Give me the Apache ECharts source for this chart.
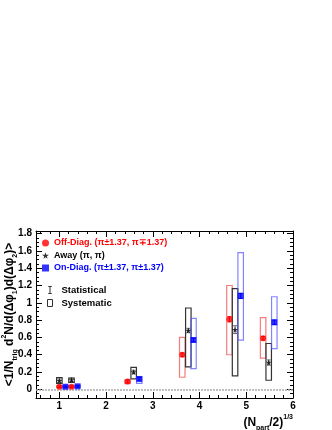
<!DOCTYPE html>
<html><head><meta charset="utf-8">
<script src="https://cdn.jsdelivr.net/npm/echarts@6/dist/echarts.min.js"></script>
<style>html,body{margin:0;padding:0;background:#fff}#c{width:332px;height:430px}</style>
</head><body><div id="c"></div>
<script>
// ---- data ----
const offName = 'Off-Diag. (π±1.37, π∓1.37)';
const awayName = 'Away (π, π)';
const onName = 'On-Diag. (π±1.37, π±1.37)';

const offX = [1.00, 1.26, 2.46, 3.63, 4.64, 5.36];
const offY = [0.03, 0.03, 0.09, 0.40, 0.81, 0.59];
const offStat = [0.01, 0.01, 0.015, 0.02, 0.03, 0.02];
const offSysLo = [0.02, 0.02, 0.065, 0.14, 0.40, 0.36];
const offSysHi = [0.04, 0.04, 0.11, 0.60, 1.20, 0.83];

const awayX = [1.00, 1.26, 2.59, 3.76, 4.76, 5.48];
const awayY = [0.10, 0.11, 0.20, 0.68, 0.69, 0.31];
const awayStat = [0.02, 0.02, 0.02, 0.025, 0.045, 0.03];
const awaySysLo = [0.07, 0.08, 0.12, 0.26, 0.155, 0.105];
const awaySysHi = [0.135, 0.13, 0.255, 0.94, 1.165, 0.53];

const onX = [1.13, 1.39, 2.71, 3.87, 4.88, 5.60];
const onY = [0.03, 0.035, 0.12, 0.57, 1.08, 0.775];
const onStat = [0.01, 0.01, 0.015, 0.02, 0.03, 0.025];
const onSysLo = [0.02, 0.025, 0.07, 0.24, 0.57, 0.47];
const onSysHi = [0.04, 0.045, 0.145, 0.82, 1.58, 1.07];

const xTicks = [1, 2, 3, 4, 5, 6];
const yTicks = [0, 0.2, 0.4, 0.6, 0.8, 1.0, 1.2, 1.4, 1.6, 1.8];
const xMin = 0.5, xMax = 6, yMin = -0.1, yMax = 1.83;

// ---- styles ----
const FONT = 'Liberation Sans, Arial, Helvetica, sans-serif';
const COLORS = ['#ff0000', '#000000', '#0000ff'];
const BOX_COLORS = ['rgba(240,80,80,0.75)', '#333333', 'rgba(90,90,255,0.75)'];
const STAT_COLORS = ['#ff0000', '#666666', '#0000ff'];
const BOX_W = 5.5;
const STAR = 'path://M50,0 L61,35 L98,35 L68,57 L79,91 L50,70 L21,91 L32,57 L2,35 L39,35 Z';

// minor tick values
const xMinor = [];
for (let i = 3; i <= 30; i++) { const v = +(i * 0.2).toFixed(1); if (v > xMin && v <= xMax) xMinor.push(v); }
const yMinor = [];
for (let i = -2; i <= 36; i++) { const v = +(i * 0.05).toFixed(2); if (v >= yMin && v <= yMax) yMinor.push(v); }

// build data
const groups = [[offX, offY, offStat, offSysLo, offSysHi], [awayX, awayY, awayStat, awaySysLo, awaySysHi], [onX, onY, onStat, onSysLo, onSysHi]];
const sysData = [], statData = [];
groups.forEach((g, gi) => {
  g[0].forEach((x, i) => {
    sysData.push([x, g[3][i], g[4][i], gi]);
    statData.push([x, g[1][i] - g[2][i], g[1][i] + g[2][i], gi]);
  });
});
const pts = (xs, ys) => xs.map((x, i) => [x, ys[i]]);

function renderBox(params, api) {
  const x = api.value(0), lo = api.value(1), hi = api.value(2), g = api.value(3);
  const a = api.coord([x, hi]), b = api.coord([x, lo]);
  return { type: 'rect', shape: { x: a[0] - BOX_W / 2, y: a[1], width: BOX_W, height: b[1] - a[1] },
    style: { fill: 'none', stroke: BOX_COLORS[g], lineWidth: 1.2 } };
}
function renderStat(params, api) {
  const x = api.value(0), lo = api.value(1), hi = api.value(2), g = api.value(3);
  const a = api.coord([x, hi]), b = api.coord([x, lo]); const c = 2;
  const st = { stroke: STAT_COLORS[g], lineWidth: 1 };
  return { type: 'group', children: [
    { type: 'line', shape: { x1: a[0], y1: a[1], x2: b[0], y2: b[1] }, style: st },
    { type: 'line', shape: { x1: a[0] - c, y1: a[1], x2: a[0] + c, y2: a[1] }, style: st },
    { type: 'line', shape: { x1: b[0] - c, y1: b[1], x2: b[0] + c, y2: b[1] }, style: st }
  ] };
}

const gridRect = { left: 36, right: 39, top: 231, bottom: 32, containLabel: false, outerBoundsMode: 'none' };
const lineStyle = { color: '#000', width: 1 };
function xAx(grid, pos, ticks, len, opts) {
  return Object.assign({ type: 'value', gridIndex: grid, position: pos, min: xMin, max: xMax,
    axisLine: { show: grid === 0, onZero: false, lineStyle },
    axisTick: { show: true, inside: true, length: len, customValues: ticks, lineStyle },
    axisLabel: { show: false }, splitLine: { show: false } }, opts || {});
}
function yAx(grid, pos, ticks, len, opts) {
  return Object.assign({ type: 'value', gridIndex: grid, position: pos, min: yMin, max: yMax,
    axisLine: { show: grid === 0, onZero: false, lineStyle },
    axisTick: { show: true, inside: true, length: len, customValues: ticks, lineStyle },
    axisLabel: { show: false }, splitLine: { show: false } }, opts || {});
}

const option = {
  backgroundColor: '#fff',
  animation: false,
  textStyle: { fontFamily: FONT },
  grid: [Object.assign({}, gridRect), Object.assign({}, gridRect)],
  xAxis: [
    xAx(0, 'bottom', xTicks, 6, {
      axisLabel: { show: true, customValues: xTicks, margin: 3, fontSize: 10, fontWeight: 'bold', color: '#000', fontFamily: FONT },
      name: '{t|(N}{s|part}{t|/2)}{p|1/3}', nameLocation: 'end', nameGap: 0, nameMoveOverlap: false,
      nameTextStyle: { align: 'right', verticalAlign: 'top', padding: [16, 0, 0, 0],
        rich: {
          t: { fontSize: 12, fontWeight: 'bold', fontFamily: FONT, color: '#000', lineHeight: 18, verticalAlign: 'middle' },
          s: { fontSize: 7, fontWeight: 'bold', fontFamily: FONT, color: '#000', lineHeight: 18, verticalAlign: 'bottom' },
          p: { fontSize: 7, fontWeight: 'bold', fontFamily: FONT, color: '#000', lineHeight: 18, verticalAlign: 'top' }
        } }
    }),
    xAx(0, 'top', xTicks, 6),
    xAx(1, 'bottom', xMinor, 3),
    xAx(1, 'top', xMinor, 3)
  ],
  yAxis: [
    yAx(0, 'left', yTicks, 6, {
      axisLabel: { show: true, customValues: yTicks, margin: 4, fontSize: 10, fontWeight: 'bold', color: '#000', fontFamily: FONT,
        formatter: v => String(+(+v).toFixed(1)) },
      name: '{t|<1/N}{s|trig}{t| d}{p|2}{t|N/d(Δφ}{s|1}{t|)d(Δφ}{s|2}{t|)>}',
      nameLocation: 'middle', nameRotate: 90, nameGap: 17, nameMoveOverlap: false,
      nameTextStyle: { rich: {
        t: { fontSize: 12, fontWeight: 'bold', fontFamily: FONT, color: '#000', lineHeight: 18, verticalAlign: 'middle' },
        s: { fontSize: 7, fontWeight: 'bold', fontFamily: FONT, color: '#000', lineHeight: 18, verticalAlign: 'bottom' },
        p: { fontSize: 7, fontWeight: 'bold', fontFamily: FONT, color: '#000', lineHeight: 18, verticalAlign: 'top' }
      } }
    }),
    yAx(0, 'right', yTicks, 6),
    yAx(1, 'left', yMinor, 3),
    yAx(1, 'right', yMinor, 3)
  ],
  legend: [
    { orient: 'vertical', left: 42, top: 238, padding: 0, itemWidth: 7, itemHeight: 7, itemGap: 2.5,
      textStyle: { fontSize: 9, fontWeight: 'bold', fontFamily: FONT, lineHeight: 10, padding: [0, 0, 0, 0] },
      data: [
        { name: offName, icon: 'circle', textStyle: { color: COLORS[0] } },
        { name: awayName, icon: STAR, textStyle: { color: COLORS[1] } },
        { name: onName, icon: 'rect', textStyle: { color: COLORS[2] } }
      ] },
    { orient: 'vertical', left: 45, top: 284, padding: 0, itemWidth: 5, itemHeight: 7, itemGap: 1,
      textStyle: { fontSize: 9.5, fontWeight: 'bold', fontFamily: FONT, color: '#000', lineHeight: 12, padding: [0, 0, 0, 4] },
      data: [
        { name: 'Statistical', icon: 'path://M0,0 L8,0 M4,0 L4,16 M0,16 L8,16', itemStyle: { color: 'none', borderColor: '#333', borderWidth: 1 } },
        { name: 'Systematic', icon: 'rect', itemStyle: { color: 'none', borderColor: '#333', borderWidth: 1 } }
      ] }
  ],
  series: [
    { name: 'Systematic', type: 'custom', xAxisIndex: 0, yAxisIndex: 0, renderItem: renderBox, data: sysData,
      encode: { x: 0, y: [1, 2] }, z: 2, silent: true,
      markLine: { silent: true, symbol: 'none', label: { show: false },
        lineStyle: { color: '#aaaaaa', width: 1.5, type: [2, 1] }, data: [{ yAxis: 0 }] } },
    { name: 'Statistical', type: 'custom', xAxisIndex: 0, yAxisIndex: 0, renderItem: renderStat, data: statData,
      encode: { x: 0, y: [1, 2] }, z: 3, silent: true },
    { name: offName, type: 'scatter', xAxisIndex: 0, yAxisIndex: 0, data: pts(offX, offY), symbol: 'circle', symbolSize: 6,
      itemStyle: { color: COLORS[0] }, z: 5 },
    { name: awayName, type: 'scatter', xAxisIndex: 0, yAxisIndex: 0, data: pts(awayX, awayY), symbol: STAR, symbolSize: 6,
      itemStyle: { color: COLORS[1] }, z: 5 },
    { name: onName, type: 'scatter', xAxisIndex: 0, yAxisIndex: 0, data: pts(onX, onY), symbol: 'rect', symbolSize: 6,
      itemStyle: { color: COLORS[2] }, z: 5 },
    { type: 'scatter', xAxisIndex: 2, yAxisIndex: 2, data: [], silent: true }
  ]
};
const chart = echarts.init(document.getElementById('c'), null, { renderer: 'canvas' });
chart.setOption(option);
</script></body></html>
